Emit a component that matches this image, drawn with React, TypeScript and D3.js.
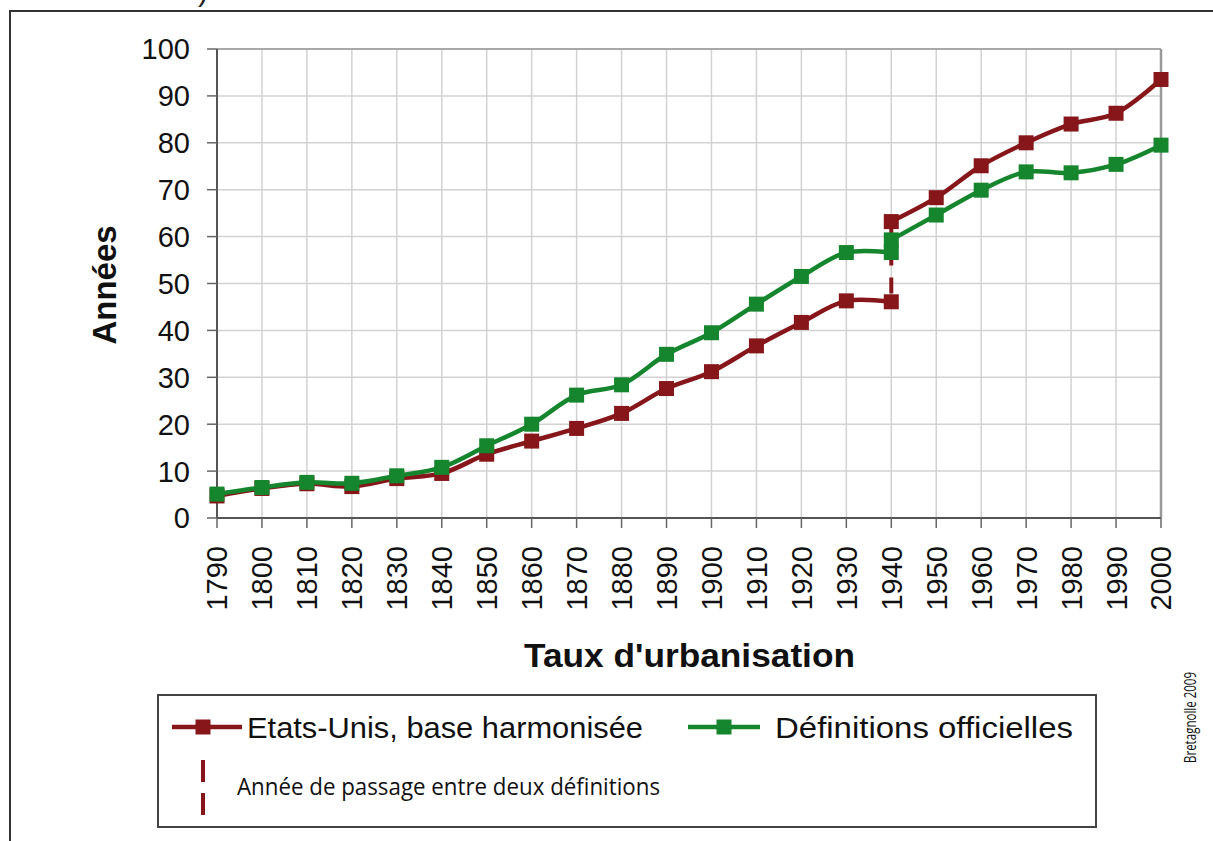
import React from "react";
import * as d3 from "d3";

const years = [1790, 1800, 1810, 1820, 1830, 1840, 1850, 1860, 1870, 1880, 1890, 1900, 1910, 1920, 1930, 1940, 1950, 1960, 1970, 1980, 1990, 2000];
const yearsBefore = years.slice(0, 16); // 1790..1940
const yearsAfter = years.slice(15); // 1940..2000

const harmonisedBefore = [4.7, 6.3, 7.3, 6.7, 8.4, 9.5, 13.6, 16.4, 19.1, 22.3, 27.6, 31.2, 36.7, 41.7, 46.3, 46.1];
const harmonisedAfter = [63.2, 68.3, 75.1, 80.0, 84.0, 86.3, 93.5];
const officialBefore = [5.1, 6.5, 7.6, 7.4, 9.0, 10.8, 15.4, 20.0, 26.2, 28.4, 34.9, 39.5, 45.6, 51.5, 56.6, 56.6];
const officialAfter = [59.3, 64.6, 69.9, 73.8, 73.6, 75.4, 79.5];

const yTicks = [0, 10, 20, 30, 40, 50, 60, 70, 80, 90, 100];
const breakYear = 1940;

const seriesNames = ["Etats-Unis, base harmonisée", "Définitions officielles"];
const breakLabel = "Année de passage entre deux définitions";
const xTitle = "Taux d'urbanisation";
const yTitle = "Années";
const credit = "Bretagnolle 2009";

const RED = "#861619";
const GREEN = "#15862d";
const FONT = "'Liberation Sans', Arial, sans-serif";

export default function App() {
  const x = d3.scaleLinear().domain([1790, 2000]).range([217, 1161]);
  const y = d3.scaleLinear().domain([0, 100]).range([518, 49]);
  const line = d3
    .line<[number, number]>()
    .x((d) => x(d[0]))
    .y((d) => y(d[1]))
    .curve(d3.curveCatmullRom.alpha(0.5));

  const hb: [number, number][] = yearsBefore.map((yr, i) => [yr, harmonisedBefore[i]]);
  const ha: [number, number][] = yearsAfter.map((yr, i) => [yr, harmonisedAfter[i]]);
  const ob: [number, number][] = yearsBefore.map((yr, i) => [yr, officialBefore[i]]);
  const oa: [number, number][] = yearsAfter.map((yr, i) => [yr, officialAfter[i]]);

  const M = 15;
  const markers = (pts: [number, number][], color: string, key: string) =>
    pts.map((p, i) => (
      <rect key={key + i} x={x(p[0]) - M / 2} y={y(p[1]) - M / 2} width={M} height={M} fill={color} />
    ));

  const [x0, x1] = x.range();
  const [yb, yt] = y.range();

  return (
    <svg
      width={1213}
      height={841}
      style={{ position: "absolute", left: 0, top: 0, background: "#fff" }}
      fontFamily={FONT}
    >
      <rect x={0} y={0} width={1213} height={841} fill="#fff" />
      {/* cut-off text above frame */}
      <text x={198} y={1} fontSize={30} fill="#222">)</text>
      {/* outer frame */}
      <rect x={10} y={11} width={1240} height={860} fill="none" stroke="#333" strokeWidth={2} />

      {/* gridlines */}
      {yTicks.map((t) => (
        <line key={"gy" + t} x1={x0} x2={x1} y1={y(t)} y2={y(t)} stroke="#d2d2d2" strokeWidth={1.5} />
      ))}
      {years.map((yr) => (
        <line key={"gx" + yr} x1={x(yr)} x2={x(yr)} y1={yt} y2={yb} stroke="#d2d2d2" strokeWidth={1.5} />
      ))}
      {/* plot frame top/right */}
      <line x1={x0} x2={x1} y1={yt} y2={yt} stroke="#a8a8a8" strokeWidth={2} />
      <line x1={x1} x2={x1} y1={yt} y2={yb} stroke="#999" strokeWidth={2.5} />

      {/* axes */}
      <line x1={x0} x2={x0} y1={yt} y2={yb} stroke="#555" strokeWidth={2} />
      <line x1={x0} x2={x1} y1={yb} y2={yb} stroke="#555" strokeWidth={2} />
      {yTicks.map((t) => (
        <g key={"yt" + t}>
          <line x1={x0 - 10} x2={x0} y1={y(t)} y2={y(t)} stroke="#666" strokeWidth={1.5} />
          <text x={190} y={y(t)} dy="0.36em" textAnchor="end" fontSize={29} fill="#111">
            {t}
          </text>
        </g>
      ))}
      {years.map((yr) => (
        <g key={"xt" + yr}>
          <line x1={x(yr)} x2={x(yr)} y1={yb} y2={yb + 10} stroke="#666" strokeWidth={1.5} />
          <text
            transform={`translate(${x(yr)},546) rotate(-90)`}
            dy="0.36em"
            textAnchor="end"
            fontSize={29}
            fill="#111"
          >
            {yr}
          </text>
        </g>
      ))}

      {/* axis titles */}
      <text x={524} y={667} fontSize={33} fontWeight="bold" fill="#111" textLength={331} lengthAdjust="spacingAndGlyphs">
        {xTitle}
      </text>
      <text transform="translate(116,285) rotate(-90)" textAnchor="middle" fontSize={33} fontWeight="bold" fill="#111">
        {yTitle}
      </text>

      {/* harmonised series (red) */}
      <line
        x1={x(breakYear)}
        x2={x(breakYear)}
        y1={y(harmonisedAfter[0])}
        y2={y(harmonisedBefore[harmonisedBefore.length - 1])}
        stroke={RED}
        strokeWidth={4}
        strokeDasharray="16,12"
      />
      <path d={line(hb) || ""} fill="none" stroke={RED} strokeWidth={4.5} />
      <path d={line(ha) || ""} fill="none" stroke={RED} strokeWidth={4.5} />
      {markers(hb, RED, "hb")}
      {markers(ha, RED, "ha")}

      {/* official series (green) */}
      <path d={line(ob) || ""} fill="none" stroke={GREEN} strokeWidth={4.5} />
      <path d={line(oa) || ""} fill="none" stroke={GREEN} strokeWidth={4.5} />
      {markers(ob, GREEN, "ob")}
      {markers(oa, GREEN, "oa")}

      {/* legend */}
      <rect x={158} y={695} width={938} height={132} fill="#fff" stroke="#444" strokeWidth={2} />
      <line x1={172} x2={242} y1={727} y2={727} stroke={RED} strokeWidth={4.5} />
      <rect x={203 - M / 2} y={727 - M / 2} width={M} height={M} fill={RED} />
      <text x={247} y={738} fontSize={30} fill="#111" textLength={396} lengthAdjust="spacingAndGlyphs">{seriesNames[0]}</text>
      <line x1={688} x2={760} y1={727} y2={727} stroke={GREEN} strokeWidth={4.5} />
      <rect x={724 - M / 2} y={727 - M / 2} width={M} height={M} fill={GREEN} />
      <text x={775} y={738} fontSize={30} fill="#111" textLength={298} lengthAdjust="spacingAndGlyphs">{seriesNames[1]}</text>
      <line x1={203} x2={203} y1={760} y2={815} stroke={RED} strokeWidth={4} strokeDasharray="22,11" />
      <text x={237} y={795} fontSize={24} fill="#111" fontFamily="'Open Sans', sans-serif" textLength={423} lengthAdjust="spacingAndGlyphs">
        {breakLabel}
      </text>

      {/* credit */}
      <text
        transform="translate(1196,763) rotate(-90)"
        fontSize={16}
        fill="#111"
        fontFamily="'Open Sans', sans-serif"
        textLength={91}
        lengthAdjust="spacingAndGlyphs"
      >
        {credit}
      </text>
    </svg>
  );
}
